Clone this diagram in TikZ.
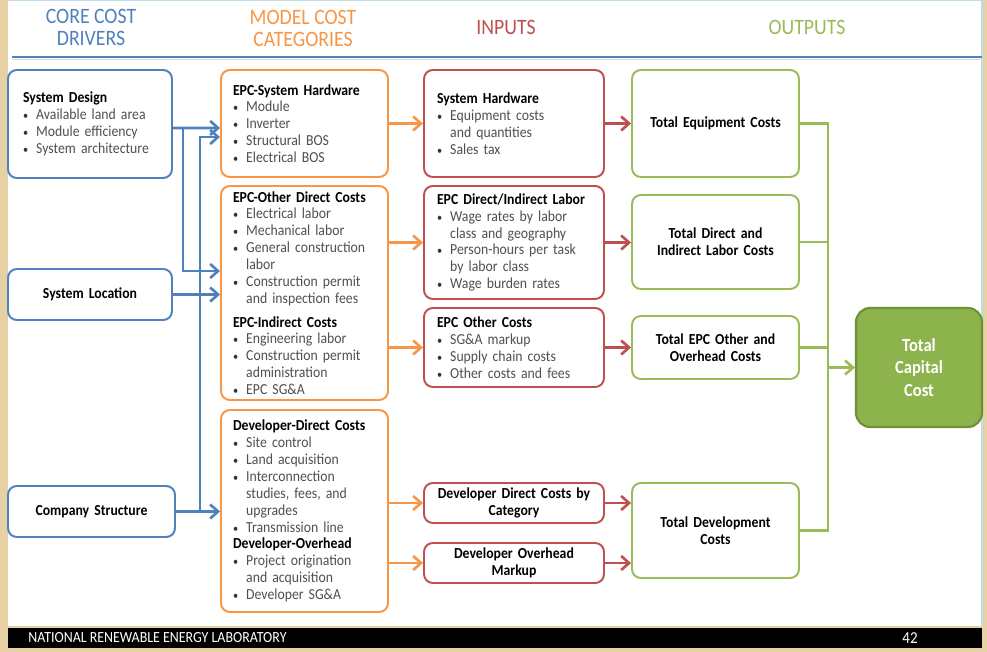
\documentclass[tikz,border=0pt]{standalone}
\usepackage{fontspec}
\usepackage{graphicx}
\setmainfont{Carlito}[FakeStretch=0.9]
\usetikzlibrary{arrows.meta}

\definecolor{drvblue}{HTML}{4F81BD}
\definecolor{catorange}{HTML}{F79646}
\definecolor{inpred}{HTML}{C0504D}
\definecolor{outgreen}{HTML}{9BBB59}
\definecolor{capfill}{HTML}{8DB34C}
\definecolor{capline}{HTML}{6D9135}
\definecolor{bultext}{HTML}{505050}
\definecolor{slidebg}{HTML}{E6D0A4}
\definecolor{framblue}{HTML}{BFDCEA}

% bullet item and continuation line
\newcommand{\itm}[1]{\makebox[7.5pt][l]{\color{black!80}\scalebox{0.75}{\textbullet}}#1}
\newcommand{\cnt}[1]{\hspace*{7.5pt}#1}
\newcommand{\hd}[1]{{\color{black}\bfseries #1}}

\begin{document}
\begin{tikzpicture}[
    x=0.02cm, y=-0.02cm,
    every node/.style={font=\fontsize{8.7}{9.6}\selectfont, inner sep=0pt},
    box/.style={rounded corners=5pt, line width=1.1pt, fill=white, text=bultext},
    drvbox/.style={box, draw=drvblue, minimum width=3.28cm, text width=2.68cm, align=left},
    catbox/.style={box, draw=catorange, minimum width=3.34cm, text width=2.86cm, align=left},
    inpbox/.style={box, draw=inpred, minimum width=3.6cm, text width=3.08cm, align=left},
    outbox/.style={box, draw=outgreen, minimum width=3.34cm, text width=3.0cm, align=center,
                   font=\fontsize{8.7}{9.6}\selectfont\bfseries, text=black},
    capbox/.style={rounded corners=8pt, line width=1.2pt, draw=capline, fill=capfill,
                   minimum width=2.52cm, minimum height=2.38cm, align=center,
                   text=white, font=\fontsize{10.5}{12.8}\selectfont\bfseries},
    colhead/.style={font=\fontsize{12.5}{12.5}\selectfont, align=center},
    drvarr/.style={-{Straight Barb[length=4.5pt,width=8pt]}, line width=1.5pt, drvblue},
    catarr/.style={-{Straight Barb[length=4.5pt,width=8pt]}, line width=1.5pt, catorange},
    inparr/.style={-{Straight Barb[length=4.5pt,width=8pt]}, line width=1.5pt, inpred},
    outarr/.style={-{Straight Barb[length=4.5pt,width=8pt]}, line width=1.5pt, outgreen},
    outline/.style={line width=1.5pt, outgreen},
  ]

  % === Slide background ===
  \useasboundingbox (0,0) rectangle (987,652);
  \fill[slidebg] (0,0) rectangle (987,652);
  \fill[white] (8,0) rectangle (982,626);
  \draw[framblue, line width=0.8pt] (8,0.5) -- (982,0.5) -- (982,626);
  \fill[black] (8,628) rectangle (982,648);

  % === Column headings ===
  \node[colhead, text=drvblue]   (h1) at (91,27)  {CORE COST\\DRIVERS};
  \node[colhead, text=catorange] (h2) at (303,28) {MODEL COST\\CATEGORIES};
  \node[colhead, text=inpred]    (h3) at (506,27) {INPUTS};
  \node[colhead, text=outgreen]  (h4) at (807,27) {OUTPUTS};
  \draw[drvblue, line width=1.6pt] (12,57) -- (982,57);
  \draw[black!15, line width=0.8pt] (12,59.5) -- (982,59.5);

  % === Core cost drivers ===
  \node[drvbox, minimum height=2.16cm] (sd) at (90,124)
    {\hd{System Design}\\ \itm{Available land area}\\ \itm{Module efficiency}\\ \itm{System architecture}};
  \node[drvbox, minimum height=1.02cm, align=center, text=black, font=\fontsize{8.7}{9.6}\selectfont\bfseries]
    (sl) at (90,294.5) {System Location};
  \node[drvbox, minimum height=1.02cm, minimum width=3.34cm, align=center, text=black,
    font=\fontsize{8.7}{9.6}\selectfont\bfseries] (cs) at (91.5,511.5) {Company Structure};

  % === Model cost categories ===
  \node[catbox, minimum height=2.14cm] (hw) at (304.5,123.5)
    {\hd{EPC-System Hardware}\\ \itm{Module}\\ \itm{Inverter}\\ \itm{Structural BOS}\\ \itm{Electrical BOS}};
  \node[catbox, minimum height=4.28cm] (epc) at (304.5,293)
    {\hd{EPC-Other Direct Costs}\\ \itm{Electrical labor}\\ \itm{Mechanical labor}\\
     \itm{General construction}\\ \cnt{labor}\\ \itm{Construction permit}\\ \cnt{and inspection fees}\\[4pt]
     \hd{EPC-Indirect Costs}\\ \itm{Engineering labor}\\ \itm{Construction permit}\\
     \cnt{administration}\\ \itm{EPC SG\&A}};
  \node[catbox, minimum height=4.04cm] (dev) at (304.5,511)
    {\hd{Developer-Direct Costs}\\ \itm{Site control}\\ \itm{Land acquisition}\\ \itm{Interconnection}\\
     \cnt{studies, fees, and}\\ \cnt{upgrades}\\ \itm{Transmission line}\\
     \hd{Developer-Overhead}\\ \itm{Project origination}\\ \cnt{and acquisition}\\ \itm{Developer SG\&A}};

  % === Inputs ===
  \node[inpbox, minimum height=2.14cm] (shw) at (514,123.5)
    {\hd{System Hardware}\\ \itm{Equipment costs}\\ \cnt{and quantities}\\ \itm{Sales tax}};
  \node[inpbox, minimum height=2.26cm] (lab) at (514,242.5)
    {\hd{EPC Direct/Indirect Labor}\\ \itm{Wage rates by labor}\\ \cnt{class and geography}\\
     \itm{Person-hours per task}\\ \cnt{by labor class}\\ \itm{Wage burden rates}};
  \node[inpbox, minimum height=1.58cm] (oth) at (514,347.5)
    {\hd{EPC Other Costs}\\ \itm{SG\&A markup}\\ \itm{Supply chain costs}\\ \itm{Other costs and fees}};
  \node[inpbox, minimum height=0.8cm, align=center] (ddc) at (514,503)
    {\hd{Developer Direct Costs by}\\ \hd{Category}};
  \node[inpbox, minimum height=0.8cm, align=center] (dov) at (514,563)
    {\hd{Developer Overhead}\\ \hd{Markup}};

  % === Outputs ===
  \node[outbox, minimum height=2.14cm] (teq)  at (715.5,123.5) {Total Equipment Costs};
  \node[outbox, minimum height=1.88cm] (tlab) at (715.5,242)   {Total Direct and\\Indirect Labor Costs};
  \node[outbox, minimum height=1.26cm] (toth) at (715.5,347.5) {Total EPC Other and\\Overhead Costs};
  \node[outbox, minimum height=1.9cm]  (tdev) at (715.5,530.5) {Total Development\\Costs};
  \node[capbox] (cap) at (919,367.5) {Total\\Capital\\Cost};

  % === Driver arrows ===
  \coordinate (sdsplit) at (183,128);
  \coordinate (cssplit) at (200,511.5);
  \draw[drvarr] ([yshift=-0.08cm]sd.east) -- ([yshift=-0.09cm]hw.west);
  \draw[drvarr] (sdsplit) |- ([yshift=0.44cm]epc.west);
  \draw[drvarr] (sl.east) -- (sl.east -| epc.west);
  \draw[drvarr] (cs.east) -- (cs.east -| dev.west);
  \draw[drvarr] (cssplit) |- ([yshift=-0.27cm]hw.west);

  % === Category to input arrows ===
  \draw[catarr] (hw.east) -- (shw.west);
  \draw[catarr] (epc.east |- lab.west) -- (lab.west);
  \draw[catarr] (epc.east |- oth.west) -- (oth.west);
  \draw[catarr] (dev.east |- ddc.west) -- (ddc.west);
  \draw[catarr] (dev.east |- dov.west) -- (dov.west);

  % === Input to output arrows ===
  \draw[inparr] (shw.east) -- (teq.west);
  \draw[inparr] (lab.east) -- (lab.east -| tlab.west);
  \draw[inparr] (oth.east) -- (toth.west);
  \draw[inparr] (ddc.east) -- (ddc.east -| tdev.west);
  \draw[inparr] (dov.east) -- (dov.east -| tdev.west);

  % === Outputs to total ===
  \coordinate (bus) at (828,367.5);
  \draw[outline] (teq.east)  -| (bus);
  \draw[outline] (tlab.east) -| (bus);
  \draw[outline] (toth.east) -| (bus);
  \draw[outline] (tdev.east) -| (bus);
  \draw[outarr] (bus) -- (cap.west);

  % === Footer ===
  \node[anchor=west, text=white, font=\fontsize{8.8}{9}\selectfont] (lab1) at (28,638)
    {NATIONAL RENEWABLE ENERGY LABORATORY};
  \node[text=white, font=\fontsize{9.5}{10}\selectfont] (pg) at (910,638) {42};

\end{tikzpicture}
\end{document}
